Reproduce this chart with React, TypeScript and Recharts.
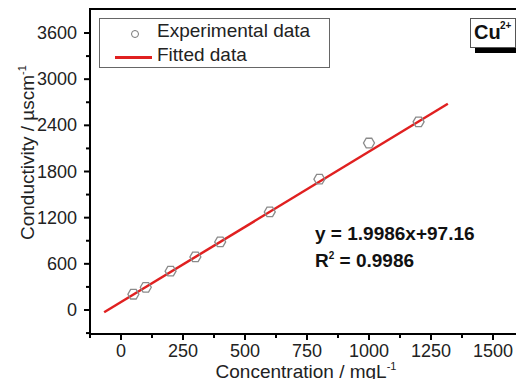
import React from 'react';
import { ComposedChart, Scatter, Line, XAxis, YAxis, ReferenceArea } from 'recharts';

const concentration = [50, 100, 200, 300, 400, 600, 800, 1000, 1200];
const conductivity = [205, 295, 505, 690, 885, 1275, 1700, 2170, 2445];
const fitX = [-68, 1318];
const fitY = [-30, 2680];

const xMajor = [0, 250, 500, 750, 1000, 1250, 1500];
const xMinor = [-125, 125, 375, 625, 875, 1125, 1375];
const yMajor = [0, 600, 1200, 1800, 2400, 3000, 3600];
const yMinor = [-300, 300, 900, 1500, 2100, 2700, 3300];

const points = concentration.map((x, i) => ({ x, y: conductivity[i] }));
const fitted = fitX.map((x, i) => ({ x, y: fitY[i] }));

const FONT = '"Liberation Sans", Arial, sans-serif';
const TS = 6;
const TM = 7;

const Hexagon = (props: any) => {
  const { cx, cy } = props;
  const r = 5.5;
  const pts = [0, 1, 2, 3, 4, 5]
    .map((k) => {
      const a = (Math.PI / 3) * k;
      return `${cx + r * Math.cos(a)},${cy + r * Math.sin(a)}`;
    })
    .join(' ');
  return <polygon points={pts} fill="none" stroke="#8a8a8a" strokeWidth={1.3} />;
};

const XTick = (props: any) => {
  const { x, y, payload } = props;
  const axisY = y - TS - TM;
  const major = xMajor.includes(payload.value);
  return (
    <g>
      <line x1={x} x2={x} y1={axisY} y2={axisY + (major ? 6 : 4)} stroke="#000" strokeWidth={2} />
      {major && (
        <text x={x} y={axisY + 23} textAnchor="middle" fontSize={18} fontFamily={FONT} fill="#222">
          {payload.value}
        </text>
      )}
    </g>
  );
};

const YTick = (props: any) => {
  const { x, y, payload } = props;
  const axisX = x + TS + TM;
  const major = yMajor.includes(payload.value);
  return (
    <g>
      <line x1={axisX} x2={axisX - (major ? 6 : 4)} y1={y} y2={y} stroke="#000" strokeWidth={2} />
      {major && (
        <text x={x} y={y + 6} textAnchor="end" fontSize={18} fontFamily={FONT} fill="#222">
          {payload.value}
        </text>
      )}
    </g>
  );
};

export default function App() {
  return (
    <div style={{ position: 'relative', width: 524, height: 387, margin: -8, background: '#fff', fontFamily: FONT }}>
      {/* edge of the neighbouring panel */}
      <div
        style={{
          position: 'absolute',
          left: 0,
          top: 7,
          width: 2,
          height: 326,
          borderTop: '2px solid #000',
          borderBottom: '2px solid #000',
          borderRight: '2px solid #000',
        }}
      />
      <ComposedChart width={524} height={387} margin={{ top: 9, right: 3, bottom: 0, left: 0 }}>
        <XAxis
          type="number"
          dataKey="x"
          domain={[-125, 1613]}
          ticks={[...xMinor, ...xMajor].sort((a, b) => a - b)}
          interval={0}
          height={53}
          axisLine={{ stroke: '#000', strokeWidth: 2 }}
          tickLine={false}
          tickSize={TS}
          tickMargin={TM}
          tick={<XTick />}
          allowDataOverflow
          label={{
            content: () => (
              <text x={306} y={378} textAnchor="middle" fontSize={19} fontFamily={FONT} fill="#222">
                Concentration / mgL
                <tspan dy={-8} fontSize={11}>-1</tspan>
              </text>
            ),
          }}
        />
        <YAxis
          type="number"
          dataKey="y"
          domain={[-312, 3912]}
          ticks={[...yMinor, ...yMajor].sort((a, b) => a - b)}
          interval={0}
          width={90}
          axisLine={{ stroke: '#000', strokeWidth: 2 }}
          tickLine={false}
          tickSize={TS}
          tickMargin={TM}
          tick={<YTick />}
          allowDataOverflow
          label={{
            content: () => (
              <text
                x={0}
                y={0}
                transform="translate(34,240) rotate(-90)"
                fontSize={19}
                fontFamily={FONT}
                fill="#222"
              >
                Conductivity / µscm
                <tspan dy={-8} fontSize={11}>-1</tspan>
              </text>
            ),
          }}
        />
        <ReferenceArea x1={-125} x2={1613} y1={-312} y2={3912} fill="none" stroke="#000" strokeWidth={2} />
        <Line
          data={fitted}
          dataKey="y"
          type="linear"
          stroke="#e02020"
          strokeWidth={2.5}
          dot={false}
          isAnimationActive={false}
        />
        <Scatter data={points} dataKey="y" shape={<Hexagon />} isAnimationActive={false} />
      </ComposedChart>

      {/* legend */}
      <div
        style={{
          position: 'absolute',
          zIndex: 2,
          left: 99,
          top: 18,
          width: 231,
          height: 50,
          border: '1px solid #666',
          boxSizing: 'border-box',
          fontSize: 19,
          color: '#222',
        }}
      >
        <div style={{ position: 'absolute', left: 31, top: 11, width: 6, height: 6, borderRadius: '50%', border: '1px solid #777' }} />
        <div style={{ position: 'absolute', left: 57, top: 1, whiteSpace: 'nowrap' }}>Experimental data</div>
        <div style={{ position: 'absolute', left: 15, top: 37, width: 37, height: 2.5, background: '#e02020' }} />
        <div style={{ position: 'absolute', left: 57, top: 25, whiteSpace: 'nowrap' }}>Fitted data</div>
      </div>

      {/* ion label */}
      <div
        style={{
          position: 'absolute',
          zIndex: 2,
          left: 470,
          top: 18,
          width: 46,
          height: 30,
          background: '#fff',
          border: '1px solid #555',
          boxSizing: 'border-box',
          boxShadow: '5px 5px 0 #000',
          fontWeight: 'bold',
          fontSize: 20,
          color: '#111',
          whiteSpace: 'nowrap',
        }}
      >
        <span style={{ position: 'absolute', left: 3, top: 2 }}>Cu</span>
        <span style={{ position: 'absolute', left: 29, top: 1, fontSize: 10 }}>2+</span>
      </div>

      {/* fit annotation */}
      <div style={{ position: 'absolute', zIndex: 2, left: 315, top: 223, fontWeight: 'bold', fontSize: 19, color: '#111', whiteSpace: 'nowrap' }}>
        y = 1.9986x+97.16
      </div>
      <div style={{ position: 'absolute', zIndex: 2, left: 315, top: 250, fontWeight: 'bold', fontSize: 19, color: '#111', whiteSpace: 'nowrap' }}>
        R<span style={{ fontSize: 10, verticalAlign: 8 }}>2</span> = 0.9986
      </div>
    </div>
  );
}
